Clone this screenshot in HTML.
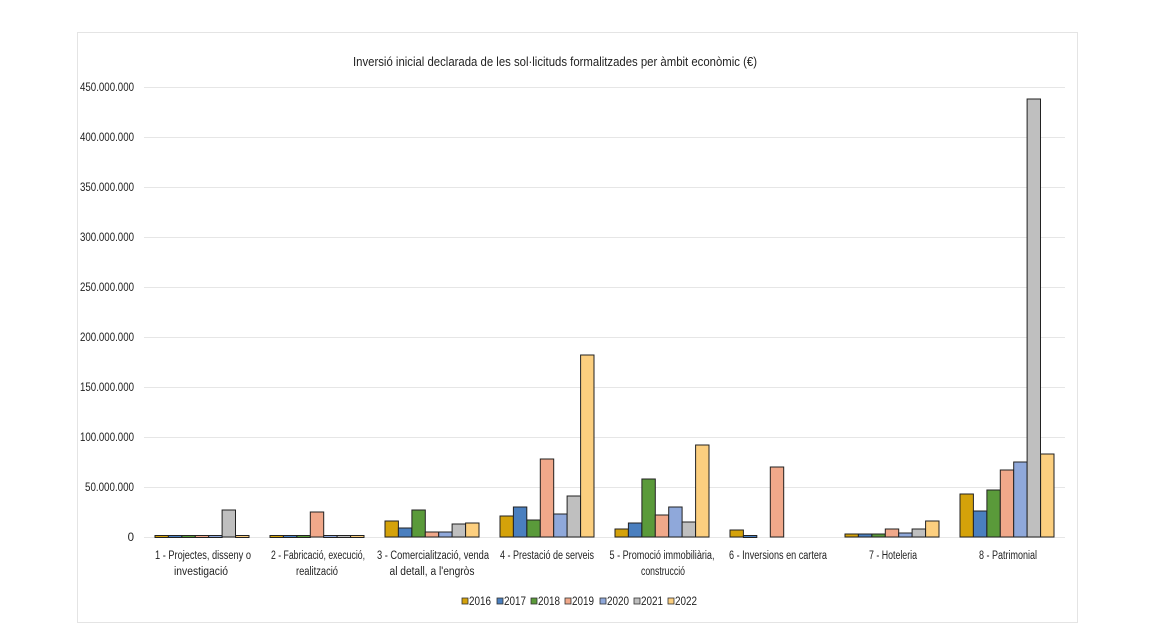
<!DOCTYPE html>
<html><head><meta charset="utf-8"><style>
body{margin:0;background:#fff;}
svg text{font-family:"Liberation Sans",Arial,sans-serif;fill:#222;}
</style></head><body>
<svg width="1164" height="637" xmlns="http://www.w3.org/2000/svg">
<rect x="77.5" y="32.5" width="1000" height="590" fill="#fff" stroke="#e4e4e4"/>
<text x="555" y="66" font-size="13" text-anchor="middle" textLength="404" lengthAdjust="spacingAndGlyphs">Inversió inicial declarada de les sol·licituds formalitzades per àmbit econòmic (€)</text>
<g stroke="#e6e6e6" stroke-width="1">
<line x1="144" x2="1065" y1="87.5" y2="87.5"/><line x1="144" x2="1065" y1="137.5" y2="137.5"/>
<line x1="144" x2="1065" y1="187.5" y2="187.5"/><line x1="144" x2="1065" y1="237.5" y2="237.5"/>
<line x1="144" x2="1065" y1="287.5" y2="287.5"/><line x1="144" x2="1065" y1="337.5" y2="337.5"/>
<line x1="144" x2="1065" y1="387.5" y2="387.5"/><line x1="144" x2="1065" y1="437.5" y2="437.5"/>
<line x1="144" x2="1065" y1="487.5" y2="487.5"/><line x1="144" x2="1065" y1="537.5" y2="537.5"/>
</g>
<g font-size="11.5" text-anchor="end">
<text x="134" y="91" textLength="54" lengthAdjust="spacingAndGlyphs">450.000.000</text>
<text x="134" y="141" textLength="54" lengthAdjust="spacingAndGlyphs">400.000.000</text>
<text x="134" y="191" textLength="54" lengthAdjust="spacingAndGlyphs">350.000.000</text>
<text x="134" y="241" textLength="54" lengthAdjust="spacingAndGlyphs">300.000.000</text>
<text x="134" y="291" textLength="54" lengthAdjust="spacingAndGlyphs">250.000.000</text>
<text x="134" y="341" textLength="54" lengthAdjust="spacingAndGlyphs">200.000.000</text>
<text x="134" y="391" textLength="54" lengthAdjust="spacingAndGlyphs">150.000.000</text>
<text x="134" y="441" textLength="54" lengthAdjust="spacingAndGlyphs">100.000.000</text>
<text x="134" y="491" textLength="49" lengthAdjust="spacingAndGlyphs">50.000.000</text>
<text x="134" y="541">0</text>
</g>
<g stroke="#222" stroke-width="1">
<g transform="translate(155,0)">
<rect x="0" y="535.5" width="13.4" height="2" fill="#D4A20A"/><rect x="13.4" y="535.5" width="13.4" height="2" fill="#4A7FBF"/><rect x="26.9" y="535.5" width="13.4" height="2" fill="#5A9A3A"/><rect x="40.3" y="535.5" width="13.4" height="2" fill="#F0A88A"/><rect x="53.7" y="535.5" width="13.4" height="2" fill="#8FA8DA"/><rect x="67.1" y="510" width="13.4" height="27" fill="#BFBFBF"/><rect x="80.6" y="535.5" width="13.4" height="2" fill="#FCCF7F"/>
</g>
<g transform="translate(270,0)">
<rect x="0" y="535.5" width="13.4" height="2" fill="#D4A20A"/><rect x="13.4" y="535.5" width="13.4" height="2" fill="#4A7FBF"/><rect x="26.9" y="535.5" width="13.4" height="2" fill="#5A9A3A"/><rect x="40.3" y="512" width="13.4" height="25" fill="#F0A88A"/><rect x="53.7" y="535.5" width="13.4" height="2" fill="#8FA8DA"/><rect x="67.1" y="535.5" width="13.4" height="2" fill="#BFBFBF"/><rect x="80.6" y="535.5" width="13.4" height="2" fill="#FCCF7F"/>
</g>
<g transform="translate(385,0)">
<rect x="0" y="521" width="13.4" height="16" fill="#D4A20A"/><rect x="13.4" y="528" width="13.4" height="9" fill="#4A7FBF"/><rect x="26.9" y="510" width="13.4" height="27" fill="#5A9A3A"/><rect x="40.3" y="532" width="13.4" height="5" fill="#F0A88A"/><rect x="53.7" y="532" width="13.4" height="5" fill="#8FA8DA"/><rect x="67.1" y="524" width="13.4" height="13" fill="#BFBFBF"/><rect x="80.6" y="523" width="13.4" height="14" fill="#FCCF7F"/>
</g>
<g transform="translate(500,0)">
<rect x="0" y="516" width="13.4" height="21" fill="#D4A20A"/><rect x="13.4" y="507" width="13.4" height="30" fill="#4A7FBF"/><rect x="26.9" y="520" width="13.4" height="17" fill="#5A9A3A"/><rect x="40.3" y="459" width="13.4" height="78" fill="#F0A88A"/><rect x="53.7" y="514" width="13.4" height="23" fill="#8FA8DA"/><rect x="67.1" y="496" width="13.4" height="41" fill="#BFBFBF"/><rect x="80.6" y="355" width="13.4" height="182" fill="#FCCF7F"/>
</g>
<g transform="translate(615,0)">
<rect x="0" y="529" width="13.4" height="8" fill="#D4A20A"/><rect x="13.4" y="523" width="13.4" height="14" fill="#4A7FBF"/><rect x="26.9" y="479" width="13.4" height="58" fill="#5A9A3A"/><rect x="40.3" y="515" width="13.4" height="22" fill="#F0A88A"/><rect x="53.7" y="507" width="13.4" height="30" fill="#8FA8DA"/><rect x="67.1" y="522" width="13.4" height="15" fill="#BFBFBF"/><rect x="80.6" y="445" width="13.4" height="92" fill="#FCCF7F"/>
</g>
<g transform="translate(730,0)">
<rect x="0" y="530" width="13.4" height="7" fill="#D4A20A"/><rect x="13.4" y="535.5" width="13.4" height="2" fill="#4A7FBF"/><rect x="40.3" y="467" width="13.4" height="70" fill="#F0A88A"/>
</g>
<g transform="translate(845,0)">
<rect x="0" y="534" width="13.4" height="3" fill="#D4A20A"/><rect x="13.4" y="534" width="13.4" height="3" fill="#4A7FBF"/><rect x="26.9" y="534" width="13.4" height="3" fill="#5A9A3A"/><rect x="40.3" y="529" width="13.4" height="8" fill="#F0A88A"/><rect x="53.7" y="533" width="13.4" height="4" fill="#8FA8DA"/><rect x="67.1" y="529" width="13.4" height="8" fill="#BFBFBF"/><rect x="80.6" y="521" width="13.4" height="16" fill="#FCCF7F"/>
</g>
<g transform="translate(960,0)">
<rect x="0" y="494" width="13.4" height="43" fill="#D4A20A"/><rect x="13.4" y="511" width="13.4" height="26" fill="#4A7FBF"/><rect x="26.9" y="490" width="13.4" height="47" fill="#5A9A3A"/><rect x="40.3" y="470" width="13.4" height="67" fill="#F0A88A"/><rect x="53.7" y="462" width="13.4" height="75" fill="#8FA8DA"/><rect x="67.1" y="99" width="13.4" height="438" fill="#BFBFBF"/><rect x="80.6" y="454" width="13.4" height="83" fill="#FCCF7F"/>
</g>
</g>
<g font-size="11.5" text-anchor="middle">
<text x="203" y="559" textLength="96" lengthAdjust="spacingAndGlyphs">1 - Projectes, disseny o</text><text x="201" y="575" textLength="54" lengthAdjust="spacingAndGlyphs">investigació</text>
<text x="318" y="559" textLength="94" lengthAdjust="spacingAndGlyphs">2 - Fabricació, execució,</text><text x="317" y="575" textLength="42" lengthAdjust="spacingAndGlyphs">realització</text>
<text x="433" y="559" textLength="112" lengthAdjust="spacingAndGlyphs">3 - Comercialització, venda</text><text x="432" y="575" textLength="85" lengthAdjust="spacingAndGlyphs">al detall, a l'engròs</text>
<text x="547" y="559" textLength="94" lengthAdjust="spacingAndGlyphs">4 - Prestació de serveis</text>
<text x="662" y="559" textLength="105" lengthAdjust="spacingAndGlyphs">5 - Promoció immobiliària,</text><text x="663" y="575" textLength="44" lengthAdjust="spacingAndGlyphs">construcció</text>
<text x="778" y="559" textLength="98" lengthAdjust="spacingAndGlyphs">6 - Inversions en cartera</text>
<text x="893" y="559" textLength="48" lengthAdjust="spacingAndGlyphs">7 - Hoteleria</text>
<text x="1008" y="559" textLength="58" lengthAdjust="spacingAndGlyphs">8 - Patrimonial</text>
</g>
<g font-size="11.5" stroke="#333" stroke-width="0.8">
<rect x="462" y="598" width="6" height="6" fill="#D4A20A"/><text x="469" y="605" stroke="none" textLength="22" lengthAdjust="spacingAndGlyphs">2016</text>
<rect x="497" y="598" width="6" height="6" fill="#4A7FBF"/><text x="504" y="605" stroke="none" textLength="22" lengthAdjust="spacingAndGlyphs">2017</text>
<rect x="531" y="598" width="6" height="6" fill="#5A9A3A"/><text x="538" y="605" stroke="none" textLength="22" lengthAdjust="spacingAndGlyphs">2018</text>
<rect x="565" y="598" width="6" height="6" fill="#F0A88A"/><text x="572" y="605" stroke="none" textLength="22" lengthAdjust="spacingAndGlyphs">2019</text>
<rect x="600" y="598" width="6" height="6" fill="#8FA8DA"/><text x="607" y="605" stroke="none" textLength="22" lengthAdjust="spacingAndGlyphs">2020</text>
<rect x="634" y="598" width="6" height="6" fill="#BFBFBF"/><text x="641" y="605" stroke="none" textLength="22" lengthAdjust="spacingAndGlyphs">2021</text>
<rect x="668" y="598" width="6" height="6" fill="#FCCF7F"/><text x="675" y="605" stroke="none" textLength="22" lengthAdjust="spacingAndGlyphs">2022</text>
</g>
</svg>
</body></html>
